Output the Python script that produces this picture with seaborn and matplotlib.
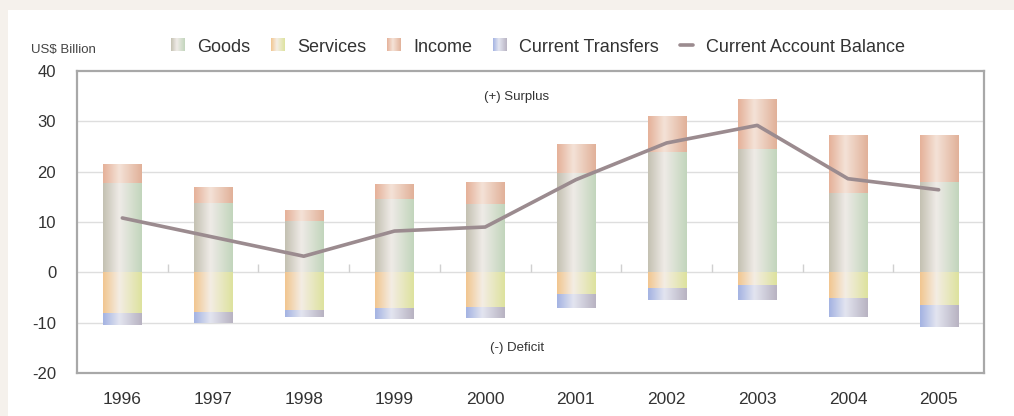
import numpy as np
import pandas as pd
import matplotlib.pyplot as plt
import seaborn as sns
from matplotlib.colors import LinearSegmentedColormap
from matplotlib.legend_handler import HandlerBase
from matplotlib.patches import Rectangle
from matplotlib.lines import Line2D

# 데이터 (US$ Billion)
years = ['1996', '1997', '1998', '1999', '2000', '2001', '2002', '2003', '2004', '2005']
goods = [17.8, 13.8, 10.2, 14.5, 13.5, 19.7, 24.0, 24.6, 15.7, 17.9]
income = [3.8, 3.1, 2.1, 3.0, 4.5, 5.8, 7.1, 9.8, 11.5, 9.3]
services = [-8.0, -7.9, -7.5, -7.1, -6.8, -4.4, -3.1, -2.6, -5.1, -6.4]
transfers = [-2.5, -2.1, -1.3, -2.2, -2.2, -2.7, -2.4, -2.8, -3.8, -4.5]
balance = [10.8, 7.0, 3.2, 8.2, 9.0, 18.4, 25.7, 29.2, 18.6, 16.4]

df = pd.DataFrame({'year': years, 'goods': goods, 'income': income,
                   'services': services, 'transfers': transfers, 'balance': balance})

# 원통 느낌 그라데이션 색 (왼쪽, 하이라이트, 오른쪽)
grad_cols = {
    'Goods': ['#c4c1b2', '#efebe7', '#c2d5bc'],
    'Services': ['#f1c690', '#f4ede4', '#dde29e'],
    'Income': ['#e5b199', '#f4e2d7', '#e1b199'],
    'Current Transfers': ['#a4b3e2', '#e3e5f0', '#b8b3c2'],
}
line_col = '#9b8b8f'

sns.set_style('white')
plt.rcParams['font.family'] = ['Liberation Sans', 'DejaVu Sans']
plt.rcParams['axes.unicode_minus'] = False

fig = plt.figure(figsize=(10.14, 4.16), dpi=100, facecolor='#f5f1ec')
fig.patches.append(Rectangle((8 / 1014, 0), 1, 1 - 10 / 416, transform=fig.transFigure,
                             facecolor='white', edgecolor='none', zorder=-10))
ax = fig.add_axes([77 / 1014, 1 - 373 / 416, (984 - 77) / 1014, (373 - 71) / 416])
ax.set_facecolor('white')


def make_cmap(cols):
    return LinearSegmentedColormap.from_list('g', [(0, cols[0]), (0.42, cols[1]), (1, cols[2])])


def paint(patches, name):
    cmap = make_cmap(grad_cols[name])
    grad = np.linspace(0, 1, 64).reshape(1, -1)
    for p in patches:
        x0, y0 = p.get_xy()
        w, h = p.get_width(), p.get_height()
        im = ax.imshow(grad, cmap=cmap, extent=(x0, x0 + w, y0, y0 + h),
                       aspect='auto', interpolation='bicubic', zorder=2)
        im.set_clip_path(p)
        p.set_facecolor('none')
        p.set_edgecolor('none')


# 막대 (양수: Goods + Income, 음수: Services + Transfers)
series = [('Goods', 'goods', None), ('Income', 'income', df['goods'].values),
          ('Services', 'services', None), ('Current Transfers', 'transfers', df['services'].values)]
for name, col, bottom in series:
    n0 = len(ax.patches)
    kws = {} if bottom is None else {'bottom': bottom}
    sns.barplot(data=df, x='year', y=col, width=0.42, errorbar=None, color='white', ax=ax, **kws)
    paint(ax.patches[n0:], name)

# 경상수지 선
sns.lineplot(x=np.arange(len(years)), y=balance, color=line_col, linewidth=2.6, ax=ax, zorder=4)

# 그리드, 축
ax.set_ylim(-20, 40)
ax.set_xlim(-0.5, 9.5)
ax.set_yticks(range(-20, 41, 10))
for v in range(-10, 40, 10):
    ax.axhline(v, color='#dedede', lw=1, zorder=1)
ax.vlines(np.arange(len(years) - 1) + 0.5, 0, 1.6, color='#d0d0d0', lw=1, zorder=1)
ax.set_xticks(range(len(years)))
ax.set_xticklabels(years)
ax.set_xlabel('')
ax.set_ylabel('')
ax.tick_params(axis='x', length=0, pad=14, labelsize=12.5, labelcolor='#333333')
ax.tick_params(axis='y', length=0, pad=15, labelsize=12, labelcolor='#333333')
for s in ax.spines.values():
    s.set_visible(True)
    s.set_color('#a8a8a8')
    s.set_linewidth(1.6)

ax.text(4.35, 34.9, '(+) Surplus', ha='center', va='center', fontsize=9.5, color='#333333')
ax.text(4.35, -15.0, '(-) Deficit', ha='center', va='center', fontsize=9.5, color='#333333')
fig.text(31 / 1014, 1 - 50 / 416, 'US$ Billion', ha='left', va='center', fontsize=9.5, color='#444444')


# 범례 (그라데이션 박스)
class GradPatch:
    def __init__(self, cols):
        self.cols = cols


class GradHandler(HandlerBase):
    def create_artists(self, legend, orig, xd, yd, w, h, fontsize, trans):
        cmap = make_cmap(orig.cols)
        n = 14
        arts = []
        for k in range(n):
            r = Rectangle((xd + w * k / n, yd), w / n * 1.05, h,
                          facecolor=cmap((k + 0.5) / n), edgecolor='none', transform=trans)
            arts.append(r)
        return arts


handles = [GradPatch(grad_cols[k]) for k in ['Goods', 'Services', 'Income', 'Current Transfers']]
handles.append(Line2D([], [], color=line_col, lw=2.6))
labels = ['Goods', 'Services', 'Income', 'Current Transfers', 'Current Account Balance']
fig.legend(handles, labels, handler_map={GradPatch: GradHandler()}, ncol=5, frameon=False,
           loc='center', bbox_to_anchor=(538 / 1014, 1 - 47 / 416), fontsize=13,
           handlelength=0.75, handleheight=0.75, handletextpad=0.7, columnspacing=1.15,
           labelcolor='#333333')

fig.savefig('out.png', dpi=100, facecolor=fig.get_facecolor())
